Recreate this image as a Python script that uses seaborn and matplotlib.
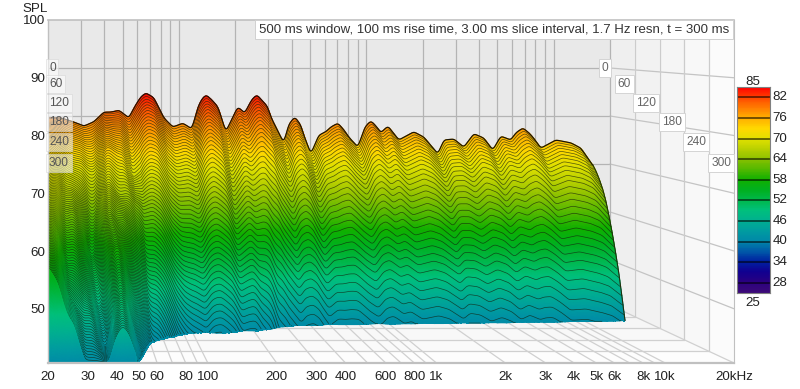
import numpy as np
import matplotlib
matplotlib.use("Agg")
import matplotlib.pyplot as plt
import seaborn as sns

# REW style waterfall
crest_freq = [20, 20.5, 23.2, 26.9, 30.8, 34.8, 39.3, 42.8, 47.3, 53.5, 56.9, 62, 65.9, 70, 72.7, 82.2, 91.8, 103.9,
              116, 125, 131, 138, 147, 160, 176, 204, 222, 243, 258, 274, 295, 306, 359, 382, 411, 443, 459, 501,
              552, 602, 640, 698, 752, 798, 893, 973, 1047, 1127, 1183, 1291, 1477, 1775, 2009, 2387, 2569, 2904,
              3283, 3713, 4197, 4688, 5174, 5851, 6225, 6781, 7300, 7668, 8462, 10170, 12240, 13840, 16220]
crest_spl = [79.6, 79.6, 79.6, 78.8, 77.9, 78.8, 80.8, 80.8, 81.2, 79.6, 81.7, 84.0, 84.8, 84.2, 83.8, 79.6, 77.7, 78.5,
             77.3, 81.9, 83.5, 84.4, 83.5, 81.9, 76.7, 81.9, 80.6, 83.5, 84.4, 83.3, 81.9, 79.8, 74.4, 78.3, 79.8, 78.1,
             76.0, 72.1, 76.0, 76.7, 77.7, 78.5, 77.1, 75.6, 73.5, 77.7, 79.0, 77.7, 76.5, 77.9, 75.0, 76.7, 75.6, 72.1,
             75.0, 75.2, 73.5, 76.3, 75.4, 72.9, 75.8, 75.0, 76.5, 77.5, 76.5, 75.6, 73.3, 75.0, 74.4, 73.3, 69.4]

# last slice of the decay, and the time the mean level ends (floor reached above 50 Hz)
end_freq = [20, 22.1, 23.3, 24.5, 25.7, 27.6, 29, 37.3, 39.3, 42.2, 44.8, 48, 50]
end_spl = [57.2, 54.5, 51.0, 48.4, 47.7, 43.4, 40.6, 40.6, 44.6, 46.7, 45.8, 42.3, 40.6]
tend_freq = [20, 50, 60, 67, 85, 102, 150, 190, 220, 260, 270, 400, 800, 2050, 6000, 16220]
tend_ms = [300, 300, 192, 186, 156, 145, 140, 135, 130, 118, 112, 104, 98, 94, 88, 81]

# how the level falls with time, fast decay and slow decay
shape_pos = [0, 0.1, 0.2, 0.3, 0.4, 0.5, 0.6, 0.7, 0.8, 0.9, 1.0, 1.5, 2.0]
shape_fast = [0, 0.04, 0.09, 0.15, 0.23, 0.33, 0.44, 0.56, 0.69, 0.84, 1.0, 1.9, 2.8]
shape_slow = [0, 0.08, 0.17, 0.27, 0.37, 0.47, 0.57, 0.68, 0.78, 0.89, 1.0, 1.6, 2.2]
# share of the peaks and notches of the first slice still there later on
keep_pos = [0, 0.25, 0.5, 0.75, 1.0, 1.5, 2.0]
keep_share = [1.0, 0.92, 0.74, 0.56, 0.45, 0.35, 0.3]

# low frequency pits in the surface (dB below the plain decay)
dip_freq = [20, 22, 24, 26, 28, 30, 32, 34, 36, 38, 40, 43, 46, 50, 55, 60, 70]
dip_ms = [0, 60, 100, 140, 200, 250, 300]
dip_0 = [0, 0, 0, 0, 0, 0, 0, 0, 0, 0, 0, 0, 0, 0, 0, 0, 0]
dip_60 = [0, 0, 1, 2, 1, 0, 2, 3, 2, 0, 0, 1, 2, 1, 4, 1, 0]
dip_100 = [0, 1, 3, 2, 1, 1, 5, 6, 3, 1, 1, 4, 5, 2, 1, 0, 0]
dip_140 = [0, 1, 4, 1, 0, 2, 8, 7, 2, 0, 1, 5, 2, 3, 1, 0, 0]
dip_200 = [0, 2, 5, 3, 0, 2, 3, 8, 7, 1, 0, 0, 3, 5, 3, 0, 0]
dip_250 = [0, 1, 3, 4, 1, 0, 0, 3, 8, 5, 2, 0, 3, 5, 2, 0, 0]
dip_300 = [0, 0, 0, 0, 0, 0, 0, 0, 0, 0, 0, 0, 0, 0, 0, 0, 0]

# axes
spl_ticks = [100, 90, 80, 70, 60, 50]
freq_ticks = [20, 30, 40, 50, 60, 80, 100, 200, 300, 400, 600, 800, 1000, 2000, 3000, 4000, 5000, 6000,
              8000, 10000, 20000]
freq_labels = ["20", "30", "40", "50", "60", "80", "100", "200", "300", "400", "600", "800", "1k", "2k",
               "3k", "4k", "5k", "6k", "8k", "10k", "20kHz"]
grid_freq = [30, 40, 50, 60, 70, 80, 90, 100, 200, 300, 400, 500, 600, 700, 800, 900, 1000, 2000, 3000,
             4000, 5000, 6000, 7000, 8000, 9000, 10000]
time_ticks = [0, 60, 120, 180, 240, 300]
time_labels = ["0", "60", "120", "180", "240", "300"]
cbar_ticks = [82, 76, 70, 64, 58, 52, 46, 40, 34, 28]
cbar_colors = ["#3c0a78", "#2a0080", "#100090", "#0020a0", "#0058a8", "#0088a8", "#009ca0", "#00b090",
               "#00c07c", "#00b84c", "#00b020", "#10b000", "#50b800", "#88c000", "#b8d000", "#e0e000",
               "#ffd800", "#ffb000", "#ff8000", "#ff4800", "#ff0000"]
title = "500 ms window, 100 ms rise time, 3.00 ms slice interval, 1.7 Hz resn, t = 300 ms"

sns.set_style("white")
plt.rcParams["font.family"] = ["Liberation Sans", "DejaVu Sans"]

W, H = 800, 389
FLOOR = 100 - 343 / 5.775
fig = plt.figure(figsize=(W / 100, H / 100), dpi=100)
ax = fig.add_axes([48 / W, 1 - 363 / H, 686 / W, 343 / H])
ax.set_xscale("log")
ax.set_xlim(20, 20000)
ax.set_ylim(FLOOR, 100)
ax.set_autoscale_on(False)

cmap = sns.blend_palette(cbar_colors, n_colors=256, as_cmap=True)


def project(f, t, spl):
    # depth moves a point from the back wall to the front plane
    d = np.asarray(t) / 300
    u = np.log10(np.asarray(f) / 20) / 3
    x = 20 * 10 ** (3 * u * (562 + 124 * d) / 686)
    y = 100 - (100 - np.asarray(spl)) * (4.8 + 0.975 * d) / 5.775
    return x, y


def smooth(v, n=7):
    kernel = np.ones(n) / n
    for _ in range(2):
        v = np.convolve(np.pad(v, n, mode="edge"), kernel, mode="same")[n:-n]
    return v


def fig_text(x, y, s, **kw):
    return fig.text(x / W, 1 - y / H, s, **kw)


f_grid = np.logspace(np.log10(20), np.log10(16220), 640)
log_f = np.log10(f_grid)
crest_g = smooth(np.interp(log_f, np.log10(crest_freq), crest_spl), 4)
mean_g = smooth(crest_g, 41)
dev_g = crest_g - mean_g
end_g = smooth(np.interp(log_f, np.log10(end_freq), end_spl, right=FLOOR), 5)
tend_g = smooth(np.interp(log_f, np.log10(tend_freq), tend_ms))
dips = [dip_0, dip_60, dip_100, dip_140, dip_200, dip_250, dip_300]
dip_g = np.array([smooth(np.interp(log_f, np.log10(dip_freq), row, right=0), 9) for row in dips])
slow = np.clip((tend_g - 90) / 110, 0, 1)
upper = np.clip((log_f - np.log10(60)) / 0.2, 0, 1)
cols = np.arange(len(f_grid))


def surface(t):
    tau = t / tend_g
    frac = (1 - slow) * np.interp(tau, shape_pos, shape_fast) + slow * np.interp(tau, shape_pos, shape_slow)
    keep = (1 - upper) * (1 - frac) + upper * np.interp(tau, keep_pos, keep_share)
    pos = np.interp(t, dip_ms, np.arange(len(dip_ms)))
    i = np.minimum(pos.astype(int), len(dip_ms) - 2)
    w = pos - i
    dip = dip_g[i, cols] * (1 - w) + dip_g[i + 1, cols] * w
    return mean_g + (end_g - mean_g) * frac + dev_g * keep - dip


# time at which each frequency goes through the floor
stop_g = tend_g.copy()
above = upper > 0
scan = np.arange(0, 300.5, 0.5)
scan_z = np.array([surface(np.full_like(f_grid, t)) for t in scan])
first = np.argmax(scan_z <= FLOOR, axis=0)
stop_g[above] = scan[first[above]]
stop_g = np.where(above & (first == 0), tend_g, stop_g)
stop_g = np.where(upper < 1, (1 - upper) * tend_g + upper * stop_g, stop_g)


def level(t):
    return np.maximum(surface(t), FLOOR)


# walls and floor
ax.fill(*project([20, 20000, 20000, 20], [0, 0, 0, 0], [FLOOR, FLOOR, 100, 100]), color="#e9e9e9", lw=0, zorder=0)
wall_shades = ["#efefef", "#f2f2f2", "#f5f5f5", "#f8f8f8", "#fbfbfb"]
floor_shades = ["#f4f4f4", "#f6f6f6", "#f8f8f8", "#fafafa", "#fdfdfd"]
for t0, t1, c1, c2 in zip(time_ticks[:-1], time_ticks[1:], wall_shades, floor_shades):
    ax.fill(*project([20000] * 4, [t0, t1, t1, t0], [FLOOR, FLOOR, 100, 100]), color=c1, lw=0, zorder=0.1)
    ax.fill(*project([20, 20000, 20000, 20], [t0, t0, t1, t1], [FLOOR] * 4), color=c2, lw=0, zorder=0.1)

# grid
for s in spl_ticks[1:]:
    ax.plot(*project([20, 20000], [0, 0], [s, s]), color="#b4b4b4", lw=0.9, zorder=0.5)
    ax.plot(*project([20000, 20000], [0, 300], [s, s]), color="#c4c4c4", lw=0.9, zorder=0.5)
for f in grid_freq + [20000]:
    ax.plot(*project([f, f], [0, 0], [FLOOR, 100]), color="#b4b4b4", lw=0.9, zorder=0.5)
    ax.plot(*project([f, f], [0, 300], [FLOOR, FLOOR]), color="#d0d0d0", lw=0.9, zorder=0.5)
for t in time_ticks[1:-1]:
    ax.plot(*project([20000, 20000], [t, t], [FLOOR, 100]), color="#cccccc", lw=0.9, zorder=0.5)
    ax.plot(*project([20, 20000], [t, t], [FLOOR, FLOOR]), color="#d0d0d0", lw=0.9, zorder=0.5)

# slices, back to front so the nearer ones hide the far ones
z = 10
rows = np.linspace(0, 1, 4)
for k in range(100):
    t_a, t_b = 3 * k, 3 * (k + 1)
    T = np.array([np.minimum(t_a + (t_b - t_a) * r, stop_g) for r in rows])
    Z = np.array([level(row) for row in T])
    X, Y = project(f_grid, T, Z)
    ax.pcolormesh(X, Y, Z, shading="gouraud", cmap=cmap, vmin=25, vmax=85, zorder=z)
    line_t = np.full_like(f_grid, t_a, dtype=float)
    lx, ly = project(f_grid, line_t, level(np.minimum(line_t, stop_g)))
    ly = np.where(line_t <= stop_g, ly, np.nan)
    if k > 0:
        ax.plot(lx, ly, color="#14200c", lw=0.5, alpha=0.72, zorder=z + 0.5)
    z += 1

# front face under the last slice at low frequencies
steps = np.linspace(0, 1, 30)
front_z = np.array([FLOOR + (end_g - FLOOR) * r for r in steps])
front_x, front_y = project(f_grid, np.full((30, len(f_grid)), 300.0), front_z)
front_y = np.where(np.broadcast_to(tend_g >= 299, front_y.shape), front_y, FLOOR)
ax.pcolormesh(front_x, front_y, front_z, shading="gouraud", cmap=cmap, vmin=25, vmax=85, zorder=z)

# outline along the t = 0 slice and the high frequency end
edge_x, edge_y = project(f_grid, np.zeros_like(f_grid), crest_g)
sns.lineplot(x=edge_x, y=edge_y, color="#1a1408", lw=0.9, estimator=None, sort=False, ax=ax, legend=False,
             zorder=z + 1)
hf_x, hf_y = [], []
for t in np.linspace(0, stop_g[-1], 28):
    px, py = project(f_grid[-1], t, level(np.full_like(f_grid, t))[-1])
    hf_x.append(float(px))
    hf_y.append(float(py))
ax.plot(hf_x, hf_y, color="#20300c", lw=0.8, zorder=z + 1)

# axes decoration
ax.set_yticks(spl_ticks)
ax.set_yticklabels([str(v) for v in spl_ticks], fontsize=9.6, color="#222222")
ax.set_xticks(freq_ticks)
ax.set_xticklabels(freq_labels, fontsize=9.6, color="#222222")
ax.minorticks_off()
ax.tick_params(axis="both", length=0, pad=2)
ax.tick_params(axis="x", pad=6)
for name, spine in ax.spines.items():
    spine.set_visible(True)
    spine.set_color("#c0c0c0")
    spine.set_linewidth(1.2)
    spine.set_zorder(z + 2)
ax.spines["right"].set_linewidth(0.8)
ax.spines["bottom"].set_linewidth(1.6)
ax.spines["left"].set_linewidth(1.0)
fig_text(35, 9, "SPL", fontsize=9.6, color="#222222", ha="center", va="center")

# title box
fig_text(494, 29.5, title, fontsize=9.55, color="#333333", ha="center", va="center", zorder=300,
         bbox=dict(boxstyle="square,pad=0.28", fc="white", ec="#d0d0d0", lw=0.7))

# time labels on both walls
label_y = [68, 84, 103, 122, 142, 163]
right_x = [610, 633, 658, 684, 708, 733]
for lab, y, x in zip(time_labels, label_y, right_x):
    fig_text(x - 2, y, lab, fontsize=8.6, color="#666666", ha="right", va="center", zorder=300,
             bbox=dict(boxstyle="square,pad=0.22", fc="white", ec="#d4d4d4", lw=0.7))
    fig_text(49, y, lab, fontsize=8.6, color="#555555", ha="left", va="center", zorder=300,
             bbox=dict(boxstyle="square,pad=0.22", fc="white", ec="#d4d4d4", lw=0.7, alpha=0.55))

# colour bar
cax = fig.add_axes([737 / W, 1 - 293 / H, 33 / W, 206 / H])
bar_levels = np.linspace(85, 25, 240).reshape(-1, 1)
sns.heatmap(bar_levels, cmap=cmap, vmin=25, vmax=85, cbar=False, xticklabels=False, yticklabels=False, ax=cax)
for v in cbar_ticks:
    row = (85 - v) / 60 * 240
    cax.hlines(row, 0, 1, color="black", alpha=0.55, lw=1.4)
    cax.text(1.08, row, str(v), transform=cax.get_yaxis_transform(), fontsize=9.6, color="#222222", va="center")
for spine in cax.spines.values():
    spine.set_visible(True)
    spine.set_color("#808080")
    spine.set_linewidth(0.8)
fig_text(753, 82, "85", fontsize=9.6, color="#222222", ha="center", va="center")
fig_text(753, 303, "25", fontsize=9.6, color="#222222", ha="center", va="center")

fig.savefig("out.png", dpi=100)
